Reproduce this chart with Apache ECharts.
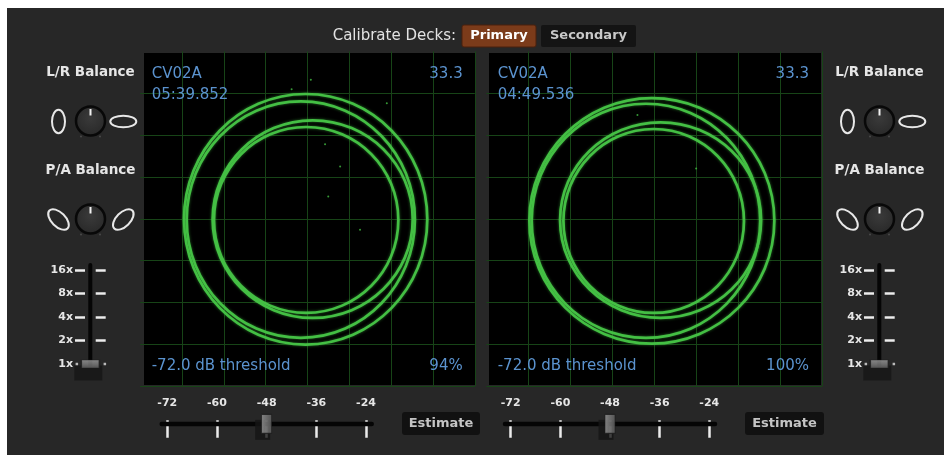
<!DOCTYPE html>
<html><head><meta charset="utf-8">
<script src="https://cdn.jsdelivr.net/npm/echarts@6/dist/echarts.min.js"></script>
<style>html,body{margin:0;padding:0;background:#fff}#c{width:944px;height:455px}</style>
</head><body><div id="c"></div>
<script>
// ---------- data ----------
const deckNames = ['CV02A', 'CV02A'];
const deckTimes = ['05:39.852', '04:49.536'];
const deckSpeeds = ['33.3', '33.3'];
const thresholdLabels = ['-72.0 dB threshold', '-72.0 dB threshold'];
const qualityLabels = ['94%', '100%'];
const thresholdTicks = [-72, -60, -48, -36, -24];
const thresholdValues = [-48, -48];
const zoomLevels = ['1x', '2x', '4x', '8x', '16x'];
const zoomValues = ['1x', '1x'];
const deckButtons = ['Primary', 'Secondary'];

// each ring: [centerX, centerY, radiusX, radiusY] in scope units (-1..1)
const leftRings = [
  [-0.011, -0.003, 0.727, 0.748],
  [-0.040, -0.005, 0.682, 0.706],
  [0.031, -0.002, 0.598, 0.590],
  [-0.008, -0.007, 0.551, 0.555]
];
const rightRings = [
  [-0.014, -0.012, 0.730, 0.733],
  [-0.049, -0.012, 0.681, 0.699],
  [0.038, -0.008, 0.599, 0.584],
  [-0.003, -0.013, 0.538, 0.549]
];
const leftNoise = [[-0.095,0.773],[0.105,0.445],[0.195,0.312],[0.474,0.690],[0.124,0.133],[0.314,-0.066],[0.02,0.83]];
const rightNoise = [[0.25,0.30],[-0.10,0.62]];

// ---------- styles ----------
const FONT = 'DejaVu Sans';
const GRIDC = '#174417';
const RING = '#44bf44';
const TXT = '#5b93cf';
const LIGHT = '#e6e6e6';

const chart = echarts.init(document.getElementById('c'), null, {renderer: 'canvas'});

function scopeX(i) {
  return {type: 'value', gridIndex: i, min: -1, max: 1, interval: 0.25,
    axisLine: {show: false}, axisTick: {show: false}, axisLabel: {show: false},
    splitLine: {show: true, showMinLine: false, showMaxLine: true, lineStyle: {color: GRIDC, width: 1}}};
}
function scopeY(i) {
  return {type: 'value', gridIndex: i, min: -1, max: 1, interval: 0.25,
    axisLine: {show: false}, axisTick: {show: false}, axisLabel: {show: false},
    splitLine: {show: true, showMinLine: true, showMaxLine: false, lineStyle: {color: GRIDC, width: 1}}};
}
function sliderX(i, pos, len, labels) {
  return {type: 'value', gridIndex: i, position: pos,
    min: thresholdTicks[0], max: thresholdTicks[thresholdTicks.length - 1],
    interval: thresholdTicks[1] - thresholdTicks[0],
    axisLine: {show: false},
    axisTick: {show: true, inside: false, length: len, lineStyle: {color: '#ececec', width: 2.5}},
    axisLabel: {show: labels, margin: 11, color: LIGHT, fontSize: 11, fontWeight: 'bold', fontFamily: FONT,
      showMinLabel: true, showMaxLabel: true, hideOverlap: false},
    splitLine: {show: false}};
}
function hiddenVal(i) {
  return {type: 'value', gridIndex: i, min: 0, max: 1, show: false};
}
function zoomY(i, pos, labels) {
  return {type: 'category', gridIndex: i, position: pos, data: zoomLevels, boundaryGap: false,
    axisLine: {show: false},
    axisTick: {show: true, inside: false, length: 10, interval: function (idx) { return idx > 0; },
      lineStyle: {color: '#ececec', width: 2.5}},
    axisLabel: {show: labels, interval: 0, margin: 12, color: LIGHT, fontSize: 11, fontWeight: 'bold', fontFamily: FONT},
    splitLine: {show: false}};
}

// rings as ellipses positioned and sized through the scope axes
function rings(data, gi) {
  return {type: 'custom', xAxisIndex: gi, yAxisIndex: gi, data: data, silent: true, z: 3, clip: false,
    renderItem: function (params, api) {
      const c = api.coord([api.value(0), api.value(1)]);
      const s = api.size([api.value(2), api.value(3)]);
      return {type: 'ellipse', shape: {cx: c[0], cy: c[1], rx: s[0], ry: s[1]},
        style: {fill: 'none', stroke: RING, lineWidth: 2.7, shadowBlur: 3, shadowColor: 'rgba(70,200,70,0.55)'}};
    }};
}
function noise(data, gi) {
  return {type: 'scatter', xAxisIndex: gi, yAxisIndex: gi, data: data, symbolSize: 2, silent: true, z: 3,
    itemStyle: {color: RING}};
}
const handleGrad = new echarts.graphic.LinearGradient(0, 0, 1, 0, [
  {offset: 0, color: '#9c9c9c'}, {offset: 1, color: '#5e5e5e'}]);
const handleGradV = new echarts.graphic.LinearGradient(0, 0, 0, 1, [
  {offset: 0, color: '#a0a0a0'}, {offset: 1, color: '#626262'}]);
function thresholdHandle(xi, yi, val) {
  return [
    {type: 'scatter', xAxisIndex: xi, yAxisIndex: yi, data: [[val, 0.5]], symbol: 'rect',
      symbolSize: [15, 20], symbolOffset: [-4, 6], silent: true, z: 4, itemStyle: {color: '#151515'}},
    {type: 'scatter', xAxisIndex: xi, yAxisIndex: yi, data: [[val, 0.5]], symbol: 'rect',
      symbolSize: [10, 19], silent: true, z: 5,
      itemStyle: {color: handleGrad, borderColor: '#1c1c1c', borderWidth: 1}}
  ];
}
function zoomHandle(xi, yi, val) {
  const idx = zoomLevels.indexOf(val);
  return [
    {type: 'scatter', xAxisIndex: xi, yAxisIndex: yi, data: [[0.5, idx]], symbol: 'rect',
      symbolSize: [28, 15], symbolOffset: [-2, 9], silent: true, z: 4, itemStyle: {color: '#161616'}},
    {type: 'scatter', xAxisIndex: xi, yAxisIndex: yi, data: [[0.5, idx]], symbol: 'rect',
      symbolSize: [18, 8], silent: true, z: 5,
      itemStyle: {color: handleGradV, borderColor: '#1c1c1c', borderWidth: 1}},
    {type: 'scatter', xAxisIndex: xi, yAxisIndex: yi, data: [[0.5, idx]], symbol: 'rect',
      symbolSize: [2.5, 2.5], symbolOffset: [-13.5, 0], silent: true, z: 5, itemStyle: {color: '#e0e0e0'}},
    {type: 'scatter', xAxisIndex: xi, yAxisIndex: yi, data: [[0.5, idx]], symbol: 'rect',
      symbolSize: [2.5, 2.5], symbolOffset: [14.5, 0], silent: true, z: 5, itemStyle: {color: '#e0e0e0'}}
  ];
}

// ---------- decoration (graphic) ----------
function txt(t, x, y, font, fill, align, z) {
  return {type: 'text', x: x, y: y, z: z || 10, silent: true,
    style: {text: t, font: font, fill: fill, textAlign: align, align: align,
      textVerticalAlign: 'middle', verticalAlign: 'middle'}};
}
function ell(x, y, rx, ry, rot) {
  return {type: 'ellipse', x: x, y: y, rotation: rot, z: 10, silent: true,
    shape: {cx: 0, cy: 0, rx: rx, ry: ry},
    style: {fill: null, stroke: '#e8e8e8', lineWidth: 2}};
}
function knob(x, y) {
  return [
    {type: 'circle', z: 10, silent: true, shape: {cx: x, cy: y, r: 14.5},
      style: {fill: new echarts.graphic.RadialGradient(0.5, 0.4, 0.7, [
        {offset: 0, color: '#3a3a3a'}, {offset: 1, color: '#252525'}]), stroke: '#080808', lineWidth: 2.5}},
    {type: 'line', z: 11, silent: true, shape: {x1: x, y1: y - 12, x2: x, y2: y - 5.5},
      style: {stroke: '#f2f2f2', lineWidth: 2}},
    {type: 'circle', z: 10, silent: true, shape: {cx: x - 9.5, cy: y + 15.5, r: 1}, style: {fill: '#4a4a4a'}},
    {type: 'circle', z: 10, silent: true, shape: {cx: x + 9.5, cy: y + 15.5, r: 1}, style: {fill: '#4a4a4a'}}
  ];
}
function sidePanel(dx) {
  const cx = 90.5 + dx;
  let els = [];
  els.push(txt('L/R Balance', cx, 72.5, 'bold 13.5px ' + FONT, LIGHT, 'center'));
  els.push(ell(58.5 + dx, 121.5, 6.5, 11.8, 0));
  els.push(ell(123.3 + dx, 121.5, 13, 5.8, 0));
  els = els.concat(knob(cx, 121));
  els.push(txt('P/A Balance', cx, 170.5, 'bold 13.5px ' + FONT, LIGHT, 'center'));
  els.push(ell(58.5 + dx, 219.5, 12.8, 7, -Math.PI / 4));
  els.push(ell(123.3 + dx, 219.5, 12.8, 7, Math.PI / 4));
  els = els.concat(knob(cx, 219));
  els.push({type: 'line', z: 1, silent: true, shape: {x1: 90.3 + dx, y1: 265, x2: 90.3 + dx, y2: 366},
    style: {stroke: '#050505', lineWidth: 4, lineCap: 'round'}});
  return els;
}
function scopeTexts(i, x0, x1) {
  return [
    txt(deckNames[i], x0, 74.3, '15px ' + FONT, TXT, 'left'),
    txt(deckTimes[i], x0, 94.7, '15px ' + FONT, TXT, 'left'),
    txt(deckSpeeds[i], x1, 74.3, '15px ' + FONT, TXT, 'right'),
    txt(thresholdLabels[i], x0, 366, '15px ' + FONT, TXT, 'left'),
    txt(qualityLabels[i], x1, 366, '15px ' + FONT, TXT, 'right')
  ];
}
function bottomControls(x1, x2, bx, bw) {
  return [
    {type: 'line', z: 1, silent: true, shape: {x1: x1, y1: 424, x2: x2, y2: 424},
      style: {stroke: '#050505', lineWidth: 4.5, lineCap: 'round'}},
    {type: 'rect', z: 1, silent: true, shape: {x: bx, y: 412, width: bw, height: 23, r: 3},
      style: {fill: '#111111'}},
    txt('Estimate', bx + bw / 2, 423.5, 'bold 13px ' + FONT, '#c4c4c4', 'center')
  ];
}

let graphics = [
  {type: 'rect', z: -10, silent: true, shape: {x: 7, y: 8, width: 937, height: 447}, style: {fill: '#272727'}},
  {type: 'rect', z: -5, silent: true, shape: {x: 144, y: 53, width: 332, height: 332}, style: {fill: '#000'}},
  {type: 'rect', z: -5, silent: true, shape: {x: 489, y: 53, width: 332, height: 332}, style: {fill: '#000'}},
  txt('Calibrate Decks:', 456, 36, '15px ' + FONT, '#e2e2e2', 'right'),
  {type: 'rect', z: 9, silent: true, shape: {x: 462, y: 25, width: 74, height: 22, r: 2},
    style: {fill: '#7b3b1a', stroke: '#4a200c', lineWidth: 1}},
  txt(deckButtons[0], 499, 36, 'bold 13px ' + FONT, '#ffffff', 'center'),
  {type: 'rect', z: 9, silent: true, shape: {x: 541, y: 25, width: 95, height: 22, r: 2},
    style: {fill: '#141414'}},
  txt(deckButtons[1], 588.5, 36, 'bold 13px ' + FONT, '#c8c8c8', 'center')
];
graphics = graphics.concat(sidePanel(0), sidePanel(789), scopeTexts(0, 151.7, 462.7), scopeTexts(1, 497.7, 809),
  bottomControls(161.7, 371.7, 402, 78), bottomControls(505, 715, 745, 79));

const option = {
  backgroundColor: '#ffffff',
  animation: false,
  grid: [
    {left: 140.2, top: 51.3, width: 334.6, height: 335, outerBoundsMode: 'none'},
    {left: 486.4, top: 51.3, width: 335.6, height: 335, outerBoundsMode: 'none'},
    {left: 167.3, top: 419.5, width: 198.7, height: 8.8, outerBoundsMode: 'none'},
    {left: 510.7, top: 419.5, width: 198.6, height: 8.8, outerBoundsMode: 'none'},
    {left: 85, top: 270, width: 10.7, height: 94, outerBoundsMode: 'none'},
    {left: 874, top: 270, width: 10.7, height: 94, outerBoundsMode: 'none'}
  ],
  xAxis: [
    scopeX(0), scopeX(1),
    sliderX(2, 'top', 8, true), sliderX(2, 'bottom', 9.5, false),
    sliderX(3, 'top', 8, true), sliderX(3, 'bottom', 9.5, false),
    hiddenVal(4), hiddenVal(5)
  ],
  yAxis: [
    scopeY(0), scopeY(1),
    hiddenVal(2), hiddenVal(3),
    zoomY(4, 'left', true), zoomY(4, 'right', false),
    zoomY(5, 'left', true), zoomY(5, 'right', false)
  ],
  graphic: {elements: graphics},
  series: [
    rings(leftRings, 0), noise(leftNoise, 0),
    rings(rightRings, 1), noise(rightNoise, 1)
  ].concat(
    thresholdHandle(2, 2, thresholdValues[0]),
    thresholdHandle(4, 3, thresholdValues[1]),
    zoomHandle(6, 4, zoomValues[0]),
    zoomHandle(7, 6, zoomValues[1])
  )
};
chart.setOption(option);
</script></body></html>
